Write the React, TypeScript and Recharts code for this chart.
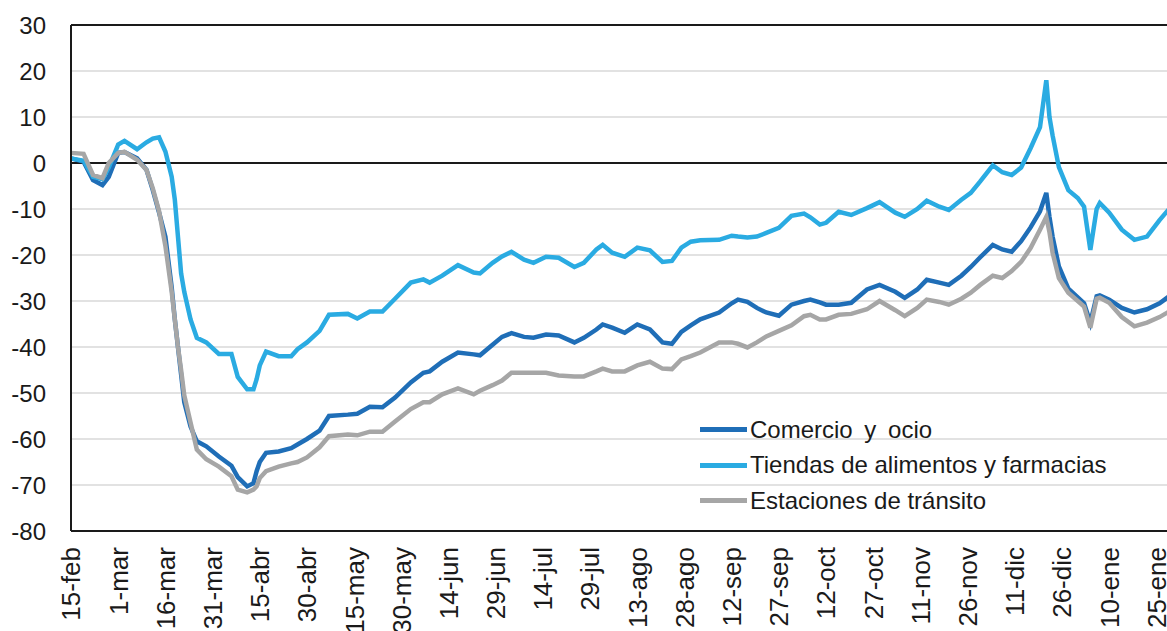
import React from "react";
import {
  LineChart,
  Line,
  XAxis,
  YAxis,
  CartesianGrid,
  ReferenceLine,
  Legend,
} from "recharts";

// Days elapsed since 15-feb (2020)
const days = [
  0, 4, 7, 10, 12, 15, 17, 21, 24, 26, 28, 30, 32, 33, 34, 35, 36, 38, 40, 43, 47, 51, 53, 56, 58, 59, 60, 62, 66, 70,
  72, 75, 79, 82, 88, 91, 95, 99, 103, 108, 112, 114, 118, 123, 128, 130, 134, 137, 140, 144, 147, 151, 155, 160, 163,
  167, 169, 172, 176, 180, 184, 188, 191, 194, 197, 200, 206, 210, 212, 215, 218, 221, 225, 229, 233, 235, 238, 240,
  244, 248, 253, 257, 262, 265, 269, 272, 276, 279, 283, 286, 289, 293, 296, 299, 302, 305, 308, 310, 311, 312, 314,
  317, 320, 322, 324, 326, 327, 330, 334, 338, 342, 346, 349,
];

const comercio = [
  1, 0.3, -3.7, -4.8, -3, 2.2, 2.4, 1, -1.5, -5.9, -10.8, -16, -27, -34, -40, -46, -52, -57.3, -60.5, -61.6, -63.8,
  -65.8, -68.3, -70.3, -69.6, -67, -65, -63, -62.7, -62, -61.2, -60, -58.2, -55, -54.7, -54.5, -53, -53.1, -51, -47.7,
  -45.6, -45.3, -43.2, -41.2, -41.6, -41.8, -39.5, -37.8, -37, -37.8, -38, -37.3, -37.5, -39, -38, -36.2, -35.1, -35.8,
  -36.9, -35.1, -36.2, -39, -39.3, -36.7, -35.3, -34, -32.5, -30.5, -29.7, -30.2, -31.5, -32.5, -33.2, -30.8, -30,
  -29.7, -30.3, -30.8, -30.8, -30.4, -27.5, -26.5, -28, -29.3, -27.5, -25.4, -26, -26.5, -24.5, -22.6, -20.5, -17.8,
  -18.8, -19.3, -17, -14, -10.5, -6.5, -11.7, -16, -22.5, -27.3, -29.2, -30.5, -34.7, -29, -28.8, -29.7, -31.5, -32.5,
  -31.8, -30.5, -29,
];

const tiendas = [
  1, 0.5, -3, -3.5, -1, 4, 4.8, 3, 4.5, 5.3, 5.6, 2.5, -3, -8, -16, -24, -28, -34, -38, -39, -41.5, -41.5, -46.5, -49.2,
  -49.2, -47, -44, -41, -42, -42, -40.5, -39, -36.5, -33, -32.8, -33.8, -32.3, -32.3, -29.5, -26, -25.3, -26, -24.5,
  -22.2, -23.8, -24, -21.7, -20.3, -19.3, -21, -21.7, -20.4, -20.6, -22.6, -21.7, -18.8, -17.8, -19.5, -20.4, -18.4,
  -19, -21.5, -21.3, -18.4, -17.1, -16.8, -16.7, -15.8, -16, -16.2, -16, -15.2, -14.1, -11.5, -11, -11.8, -13.4, -13,
  -10.6, -11.3, -9.8, -8.5, -10.8, -11.7, -10, -8.2, -9.5, -10.2, -8, -6.5, -4, -0.5, -2, -2.6, -1, 3.2, 7.8, 18, 10, 6,
  -0.9, -5.9, -7.6, -9.5, -18.9, -10, -8.7, -10.8, -14.5, -16.7, -16, -12.4, -10,
];

const estaciones = [
  2.2, 2, -2.6, -3.3, 0, 2.2, 2.4, 0.7, -1.5, -5.5, -10.5, -18, -28, -34, -40, -45, -50.5, -56.4, -62.3, -64.4, -66,
  -68.1, -71, -71.6, -71, -70.3, -68.5, -67, -66, -65.3, -65, -64, -61.8, -59.4, -59, -59.2, -58.4, -58.4, -56.2, -53.5,
  -52, -52, -50.3, -49, -50.3, -49.5, -48.3, -47.3, -45.6, -45.6, -45.6, -45.6, -46.2, -46.4, -46.4, -45.3, -44.7,
  -45.3, -45.3, -44, -43.2, -44.7, -44.8, -42.7, -42, -41.2, -39, -39, -39.3, -40.1, -39, -37.7, -36.5, -35.3, -33.3,
  -33, -34, -34, -33, -32.8, -31.8, -30, -32, -33.3, -31.5, -29.7, -30.2, -30.8, -29.5, -28.2, -26.5, -24.5, -25, -23.5,
  -21.5, -18.5, -14.5, -11.7, -15, -19.5, -25, -28.2, -30, -31.2, -35.8, -29.5, -29.3, -30.4, -33.5, -35.5, -34.7,
  -33.5, -32.3,
];

const tickLabels = [
  "15-feb", "1-mar", "16-mar", "31-mar", "15-abr", "30-abr", "15-may", "30-may", "14-jun", "29-jun", "14-jul",
  "29-jul", "13-ago", "28-ago", "12-sep", "27-sep", "12-oct", "27-oct", "11-nov", "26-nov", "11-dic", "26-dic",
  "10-ene", "25-ene",
];
const tickDays = tickLabels.map((_, i) => i * 15);
const yTicks = [-80, -70, -60, -50, -40, -30, -20, -10, 0, 10, 20, 30];

const seriesNames = ["Comercio y ocio", "Tiendas de alimentos y farmacias", "Estaciones de tránsito"];
const seriesColors = ["#1f6eb7", "#2aabe2", "#a6a6a6"];

const data = days.map((d, i) => ({
  day: d,
  comercio: comercio[i],
  tiendas: tiendas[i],
  estaciones: estaciones[i],
}));

const FONT = "'Liberation Sans', Arial, Helvetica, sans-serif";

const XTick = (props: any) => {
  const { x, y, payload } = props;
  const idx = Math.round(payload.value / 15);
  return (
    <text
      x={x}
      y={y}
      transform={`rotate(-90, ${x}, ${y})`}
      textAnchor="end"
      dy="0.36em"
      fontSize={26}
      fontFamily={FONT}
      fill="#1a1a1a"
    >
      {tickLabels[idx]}
    </text>
  );
};

const renderLegend = () => (
  <div style={{ fontFamily: FONT, fontSize: 24, color: "#1a1a1a" }}>
    {seriesNames.map((name, i) => (
      <div key={name} style={{ display: "flex", alignItems: "center", height: 35.5, whiteSpace: "nowrap" }}>
        <div style={{ width: 47, height: 5, background: seriesColors[i], marginRight: 3 }} />
        <span style={{ wordSpacing: i === 0 ? 5 : 0 }}>{name}</span>
      </div>
    ))}
  </div>
);

export default function App() {
  return (
    <div
      style={{
        position: "absolute",
        left: 0,
        top: 0,
        width: 1167,
        height: 631,
        overflow: "hidden",
        background: "#fff",
      }}
    >
      <LineChart width={1169} height={631} data={data} margin={{ top: 25, right: 0, bottom: 0, left: 0 }}>
        <CartesianGrid horizontal vertical={false} stroke="#d9d9d9" strokeWidth={1.5} />
        <XAxis
          dataKey="day"
          type="number"
          domain={[0, 349]}
          ticks={tickDays}
          interval={0}
          height={100}
          tickLine={false}
          tickSize={0}
          tickMargin={16}
          axisLine={{ stroke: "#1a1a1a", strokeWidth: 2 }}
          tick={<XTick />}
        />
        <YAxis
          type="number"
          domain={[-80, 30]}
          ticks={yTicks}
          interval={0}
          width={71}
          tickLine={false}
          tickSize={0}
          tickMargin={25}
          axisLine={{ stroke: "#1a1a1a", strokeWidth: 2 }}
          tick={{ fontSize: 24, fontFamily: FONT, fill: "#1a1a1a" }}
        />
        <ReferenceLine y={0} stroke="#1a1a1a" strokeWidth={2} />
        <ReferenceLine y={30} stroke="#1a1a1a" strokeWidth={2} />
        <Legend
          layout="vertical"
          align="center"
          verticalAlign="middle"
          content={renderLegend}
          wrapperStyle={{ left: 700, top: 412, width: 465 }}
        />
        <Line
          type="linear"
          dataKey="comercio"
          name={seriesNames[0]}
          stroke={seriesColors[0]}
          strokeWidth={4.5}
          dot={false}
          isAnimationActive={false}
        />
        <Line
          type="linear"
          dataKey="tiendas"
          name={seriesNames[1]}
          stroke={seriesColors[1]}
          strokeWidth={4.5}
          dot={false}
          isAnimationActive={false}
        />
        <Line
          type="linear"
          dataKey="estaciones"
          name={seriesNames[2]}
          stroke={seriesColors[2]}
          strokeWidth={4.5}
          dot={false}
          isAnimationActive={false}
        />
      </LineChart>
    </div>
  );
}
